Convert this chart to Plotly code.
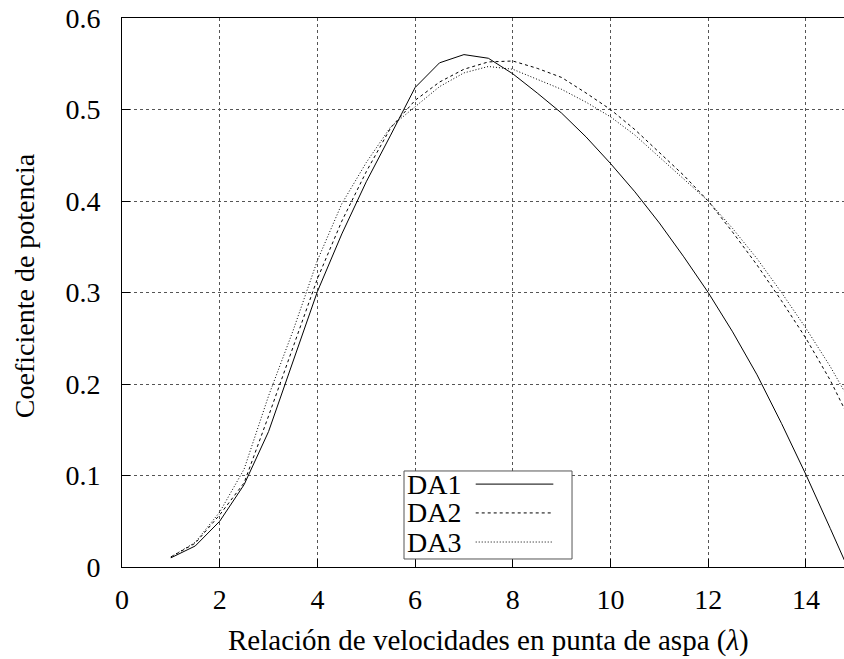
import plotly.graph_objects as go

# ---- data ----
lam = [1, 1.5, 2, 2.5, 3, 3.5, 4, 4.5, 5, 5.5, 6, 6.5, 7, 7.5, 8, 8.5, 9, 9.5,
       10, 10.5, 11, 11.5, 12, 12.5, 13, 13.5, 14, 14.5, 15]
da1 = [0.010, 0.023, 0.050, 0.090, 0.148, 0.225, 0.301, 0.364, 0.421, 0.472,
       0.524, 0.551, 0.560, 0.556, 0.539, 0.518, 0.496, 0.470, 0.441, 0.410,
       0.376, 0.339, 0.300, 0.257, 0.210, 0.157, 0.101, 0.042, -0.018]
da2 = [0.011, 0.026, 0.057, 0.092, 0.165, 0.241, 0.315, 0.378, 0.432, 0.480,
       0.510, 0.530, 0.544, 0.552, 0.553, 0.545, 0.535, 0.518, 0.500, 0.478,
       0.453, 0.428, 0.400, 0.366, 0.330, 0.291, 0.250, 0.204, 0.150]
da3 = [0.011, 0.027, 0.060, 0.107, 0.187, 0.258, 0.335, 0.397, 0.442, 0.481,
       0.503, 0.525, 0.540, 0.547, 0.544, 0.533, 0.522, 0.508, 0.492, 0.472,
       0.448, 0.425, 0.400, 0.370, 0.337, 0.300, 0.261, 0.219, 0.172]
series_names = ["DA1", "DA2", "DA3"]
x_ticks = [0, 2, 4, 6, 8, 10, 12, 14]
y_ticks = [0, 0.1, 0.2, 0.3, 0.4, 0.5, 0.6]
y_ticktext = ["0", "0.1", "0.2", "0.3", "0.4", "0.5", "0.6"]
x_title = "Relación de velocidades en punta de aspa (<i>λ</i>)"
y_title = "Coeficiente de potencia"

FONT = "'Liberation Serif', 'Times New Roman', Times, serif"
FS = 28
dashes = ["solid", "3px,3px", "1px,2px"]

fig = go.Figure()
for name, ys, dash in zip(series_names, [da1, da2, da3], dashes):
    fig.add_trace(go.Scatter(x=lam, y=ys, mode="lines", name=name,
                             line=dict(color="black", width=1, dash=dash),
                             showlegend=False))

axis_common = dict(
    showgrid=True, gridcolor="#555555", griddash="dot", gridwidth=1,
    showline=True, linecolor="black", linewidth=1,
    ticks="inside", ticklen=8, tickcolor="black", tickwidth=1,
    zeroline=False,
    tickfont=dict(family=FONT, size=FS, color="black"),
)
fig.update_xaxes(range=[0, 14.78], tickvals=x_ticks, mirror=True,
                 ticklabelstandoff=7, **axis_common)
fig.update_yaxes(range=[0, 0.6], tickvals=y_ticks, ticktext=y_ticktext,
                 mirror=False, ticklabelstandoff=15, **axis_common)

annotations = [
    dict(text=x_title, xref="paper", yref="paper", x=0.508, y=-0.134,
         xanchor="center", yanchor="middle", showarrow=False,
         font=dict(family=FONT, size=29, color="black")),
    dict(text=y_title, xref="paper", yref="paper", x=-0.134, y=0.512,
         xanchor="center", yanchor="middle", showarrow=False, textangle=-90,
         font=dict(family=FONT, size=FS, color="black")),
]
# custom legend (text left, line sample right)
shapes = [dict(type="rect", xref="paper", yref="paper", x0=0.3906, x1=0.6233,
               y0=0.0146, y1=0.1749, line=dict(color="#555555", width=1),
               fillcolor="white", layer="above")]
row_y = [0.1510, 0.0985, 0.0455]
for name, dash, ry in zip(series_names, dashes, row_y):
    annotations.append(dict(text=name, xref="paper", yref="paper", x=0.392, y=ry,
                            xanchor="left", yanchor="middle", showarrow=False,
                            font=dict(family=FONT, size=FS, color="black")))
    shapes.append(dict(type="line", xref="paper", yref="paper", x0=0.4899, x1=0.5974,
                       y0=ry, y1=ry, line=dict(color="black", width=1, dash=dash),
                       layer="above"))

fig.update_layout(
    width=844, height=659,
    margin=dict(l=122, r=0, t=18, b=92),
    paper_bgcolor="white", plot_bgcolor="white",
    annotations=annotations, shapes=shapes,
    font=dict(family=FONT, color="black"),
)
fig.write_html("out.html")
